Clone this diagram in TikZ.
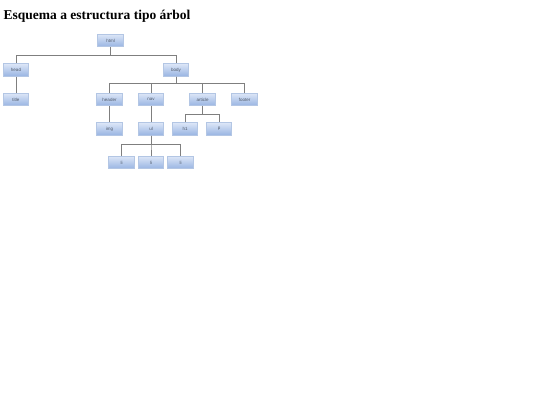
\documentclass[tikz,border=0pt]{standalone}
\usepackage{fontspec}
\setmainfont{Liberation Serif}
\newfontfamily\boxfont{Liberation Sans}
\begin{document}
\begin{tikzpicture}[x=1pt,y=-1pt,
  tbox/.style={draw=boxborder,line width=0.6pt,top color=boxtop,bottom color=boxbot,
    minimum width=25.5pt,minimum height=12.5pt,inner sep=0pt,
    font=\boxfont\fontsize{4.5}{5}\selectfont,text=boxtext},
  conn/.style={draw=linegray,line width=0.9pt}]
\definecolor{boxtop}{HTML}{DCE6F7}
\definecolor{boxbot}{HTML}{98B4E2}
\definecolor{boxborder}{HTML}{B3C6E4}
\definecolor{boxtext}{HTML}{505A6A}
\definecolor{linegray}{HTML}{7F7F7F}
\useasboundingbox (0,0) rectangle (540,405);
\node[anchor=base west,font=\fontsize{13.5}{15}\selectfont\bfseries,inner sep=0pt] (ttl) at (3.5,19.5) {Esquema a estructura tipo árbol};
\node[tbox] (html) at (110.5,40.5) {html};
\node[tbox] (head) at (16,70) {head};
\node[tbox] (body) at (176,70) {body};
\node[tbox] (title) at (16,99.5) {title};
\node[tbox] (header) at (109.5,99.5) {header};
\node[tbox] (nav) at (151,99.5) {nav};
\node[tbox] (article) at (202.5,99.5) {article};
\node[tbox] (footer) at (244.5,99.5) {footer};
\node[tbox] (img) at (109.5,129) {img};
\node[tbox] (ul) at (151,129) {ul};
\node[tbox] (h1) at (185,129) {h1};
\node[tbox] (p) at (219,129) {p};
\node[tbox] (li1) at (121.5,162.5) {li};
\node[tbox] (li2) at (151,162.5) {li};
\node[tbox] (li3) at (180.5,162.5) {li};
% connectors
\draw[conn] (html.south) -- ++(0,8.5) -| (head.north);
\draw[conn] (html.south) -- ++(0,8.5) -| (body.north);
\draw[conn] (head.south) -- (title.north);
\draw[conn] (body.south) -- ++(0,7) -| (header.north);
\draw[conn] (body.south) -- ++(0,7) -| (nav.north);
\draw[conn] (body.south) -- ++(0,7) -| (article.north);
\draw[conn] (body.south) -- ++(0,7) -| (footer.north);
\draw[conn] (header.south) -- (img.north);
\draw[conn] (nav.south) -- (ul.north);
\draw[conn] (article.south) -- ++(0,8.5) -| (h1.north);
\draw[conn] (article.south) -- ++(0,8.5) -| (p.north);
\draw[conn] (ul.south) -- ++(0,9) -| (li1.north);
\draw[conn] (ul.south) -- ++(0,9) -| (li2.north);
\draw[conn] (ul.south) -- ++(0,9) -| (li3.north);
\end{tikzpicture}
\end{document}
